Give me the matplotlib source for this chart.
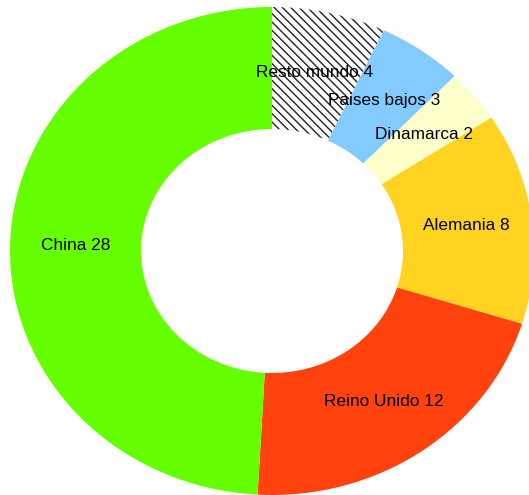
import matplotlib.pyplot as plt
import numpy as np

plt.rcParams['font.family'] = ['Liberation Sans', 'DejaVu Sans']

countries = ["Resto mundo", "Paises bajos", "Dinamarca", "Alemania", "Reino Unido", "China"]
values = [4, 3, 2, 8, 12, 28]
colors = ["white", "#83caff", "#ffffcc", "#ffd320", "#ff420e", "#66ff00"]

labels = [f"{c} {v}" for c, v in zip(countries, values)]

fig = plt.figure(figsize=(5.29, 4.95), dpi=100)
ax = fig.add_axes([0, 0, 1, 1])

wedges, texts = ax.pie(values, labels=labels, colors=colors, startangle=90,
                       counterclock=False, radius=1.0, labeldistance=0.75,
                       wedgeprops=dict(width=0.5, linewidth=0),
                       textprops=dict(fontsize=12.4, color="black"))

# hatched "rest of world" slice
wedges[0].set_hatch("\\" * 4)
wedges[0].set_edgecolor("#222222")
wedges[0].set_linewidth(0)

for t in texts:
    t.set_ha("center")
    t.set_va("center")

# the ring is drawn slightly squashed vertically
ax.set_aspect("auto")
ax.set_xlim(-272 / 262, (529 - 272) / 262)
ax.set_ylim(-(495 - 251) / 244, 251 / 244)
ax.axis("off")

fig.savefig("out.png", dpi=100)
